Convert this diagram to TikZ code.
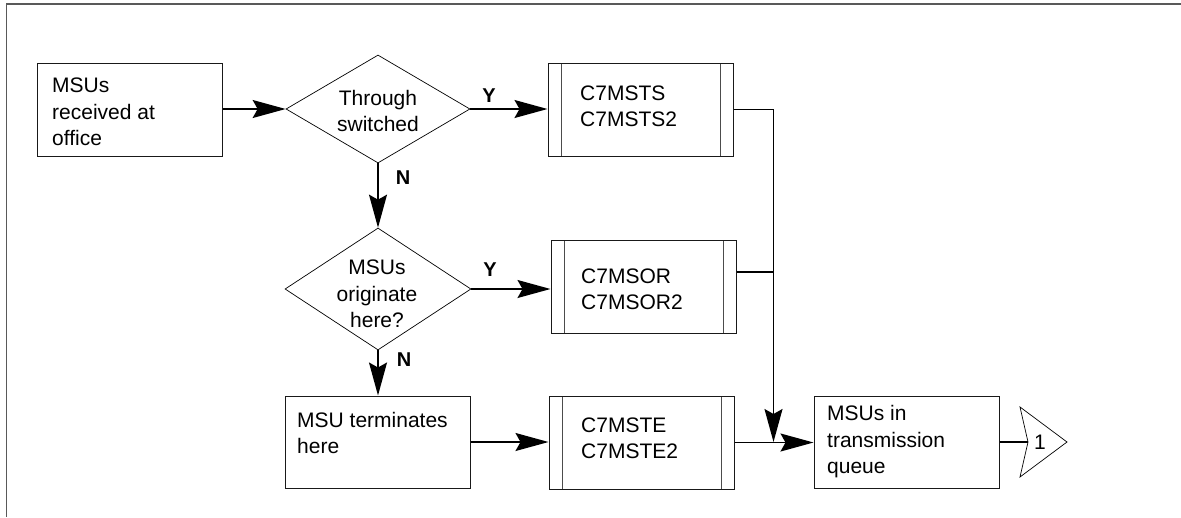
\documentclass[tikz,border=0pt]{standalone}
\usepackage{fontspec}
\setmainfont{Liberation Sans}
\usetikzlibrary{shapes.geometric,arrows.meta,calc}
\begin{document}
\begin{tikzpicture}[x=1pt,y=-1pt,
  box/.style={draw=black!90,line width=1pt,rectangle,minimum width=185pt,minimum height=93pt,inner sep=0pt},
  subbox/.style={box,path picture={\draw[black!70,line width=1pt] ([xshift=13pt]path picture bounding box.north west) -- ([xshift=13pt]path picture bounding box.south west) ([xshift=-13pt]path picture bounding box.north east) -- ([xshift=-13pt]path picture bounding box.south east);}},
  dec/.style={draw,diamond,line width=0.7pt,inner sep=0pt},
  txt/.style={font=\fontsize{21}{26.5}\selectfont,align=left,inner sep=0pt},
  ctxt/.style={txt,align=center},
  lab/.style={font=\fontsize{20}{24}\selectfont\bfseries,inner sep=0pt},
  flow/.style={line width=1.5pt,-{Stealth[length=33pt,width=18pt,inset=5pt]}},
  link/.style={line width=1.5pt},
  frame/.style={draw=black!65,line width=1.5pt}]
\useasboundingbox (0,0) rectangle (1181,517);
\draw[frame] (1181,4) -- (6.5,4) -- (6.5,517);

\node[box] (A) at (130,109.5) {};
\node[txt,anchor=west] (tA) at (52,112) {MSUs\\received at\\office};
\node[dec,minimum width=184pt,minimum height=108pt] (d1) at (378,109) {};
\node[ctxt] (td1) at (378,111) {Through\\switched};
\node[subbox] (S1) at (640.5,109.5) {};
\node[txt,anchor=west] (tS1) at (580,106.5) {C7MSTS\\C7MSTS2};
\node[dec,minimum width=186pt,minimum height=122pt] (d2) at (378,289) {};
\node[ctxt] (td2) at (377,294) {MSUs\\originate\\here?};
\node[subbox] (S2) at (643.5,286.5) {};
\node[txt,anchor=west] (tS2) at (581,289.5) {C7MSOR\\C7MSOR2};
\node[box,minimum height=92pt] (B) at (377.5,442) {};
\node[txt,anchor=west] (tB) at (297,433) {MSU terminates\\here};
\node[subbox] (S3) at (641.5,442.5) {};
\node[txt,anchor=west] (tS3) at (581,438.5) {C7MSTE\\C7MSTE2};
\node[box,minimum height=92pt] (Q) at (906.5,442) {};
\node[txt,anchor=west] (tQ) at (827,442) {MSUs in\\transmission\\queue};

\draw[line width=0.7pt] (1020,407) -- (1067,442) -- (1020,477) -- (1028,442) -- cycle;
\coordinate (op) at (1028,442);
\node[txt] (one) at (1040,442) {1};

\node[lab] (y1) at (489,96) {Y};
\node[lab] (y2) at (490,270) {Y};
\node[lab] (n1) at (403,178) {N};
\node[lab] (n2) at (404,360) {N};

\draw[flow] (d1.west -| A.east) -- (d1.west);
\draw[flow] (d1.east) -- (d1.east -| S1.west);
\draw[flow] (d1.south) -- (d2.north);
\draw[flow] (d2.east) -- (d2.east -| S2.west);
\draw[flow] (d2.south) -- (d2.south |- B.north);
\draw[flow] (B.east) -- (B.east -| S3.west);
\draw[flow] (S3.east) -- (S3.east -| Q.west);
\path (Q.west) ++(-40,0) coordinate (j);
\draw[flow] (S1.east) -| (j);
\coordinate (s2o) at ($(S2.north east)!0.344!(S2.south east)$);
\draw[link] (s2o) -- (s2o -| j);
\draw[link] (Q.east) -- (op);
\end{tikzpicture}
\end{document}
